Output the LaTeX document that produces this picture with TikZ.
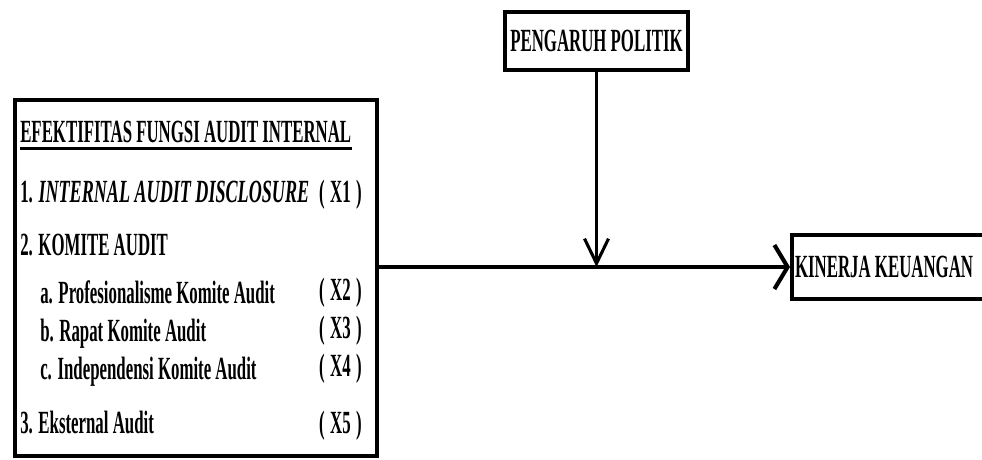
\documentclass[tikz,border=0pt]{standalone}
\usepackage{fontspec}
\setmainfont{Liberation Serif}[FakeStretch=0.52]
\newfontfamily\miringfont{Liberation Serif}[FakeStretch=0.56]
\usetikzlibrary{arrows.meta}
\usetikzlibrary{positioning}

\tikzset{
  varbox/.style={draw,rectangle,line width=2.7pt,inner sep=0pt,font=\fontsize{23}{25}\selectfont\bfseries},
  vartext/.style={font=\fontsize{23}{25}\selectfont\bfseries,anchor=base west,inner sep=0pt},
  kode/.style={vartext,anchor=base east},
  hbarb/.tip={Straight Barb[length=0.33cm,width=1.1cm]},
  vbarb/.tip={Straight Barb[length=0.62cm,width=0.6cm]}
}

\begin{document}
\begin{tikzpicture}[x=0.025cm,y=-0.025cm]
\useasboundingbox[fill=white] (0,0) rectangle (982,460);

\node[varbox,minimum width=9.03cm,minimum height=8.9cm] (audit) at (196,278) {};
\node[vartext] (judul) at (20,142) {EFEKTIFITAS FUNGSI AUDIT INTERNAL};
\draw[line width=1.6pt] ([yshift=-0.15cm]judul.south west) -- ([yshift=-0.15cm]judul.south east);

\node[vartext] (x1) at (20,202) {1. {\miringfont\itshape INTERNAL AUDIT DISCLOSURE}};
\node[vartext] (x2) at (20,255) {2. KOMITE AUDIT};
\node[vartext] (x2a) at (40,303) {a. Profesionalisme Komite Audit};
\node[vartext] (x2b) at (40,341) {b. Rapat Komite Audit};
\node[vartext] (x2c) at (40,379) {c. Independensi Komite Audit};
\node[vartext] (x3) at (20,433) {3. Eksternal Audit};

\node[kode] (k1) at (362,202) {(\,X1\,)};
\node[kode] (k2) at (362,300) {(\,X2\,)};
\node[kode] (k3) at (362,338) {(\,X3\,)};
\node[kode] (k4) at (362,376) {(\,X4\,)};
\node[kode] (k5) at (362,433) {(\,X5\,)};

\node[varbox,minimum width=4.58cm,minimum height=1.45cm] (politik) at (596.5,41) {PENGARUH POLITIK};
\node[varbox,anchor=west,minimum height=1.58cm,text width=5cm,align=flush left,inner xsep=0.08cm] (kinerja) at (790,267) {KINERJA KEUANGAN};

\coordinate (temu) at (politik.south |- kinerja.west);
\draw[line width=2.9pt,-hbarb] (audit.east |- kinerja.west) -- (kinerja.west);
\draw[line width=2.2pt,-vbarb] (politik.south) -- (temu);

\end{tikzpicture}
\end{document}
